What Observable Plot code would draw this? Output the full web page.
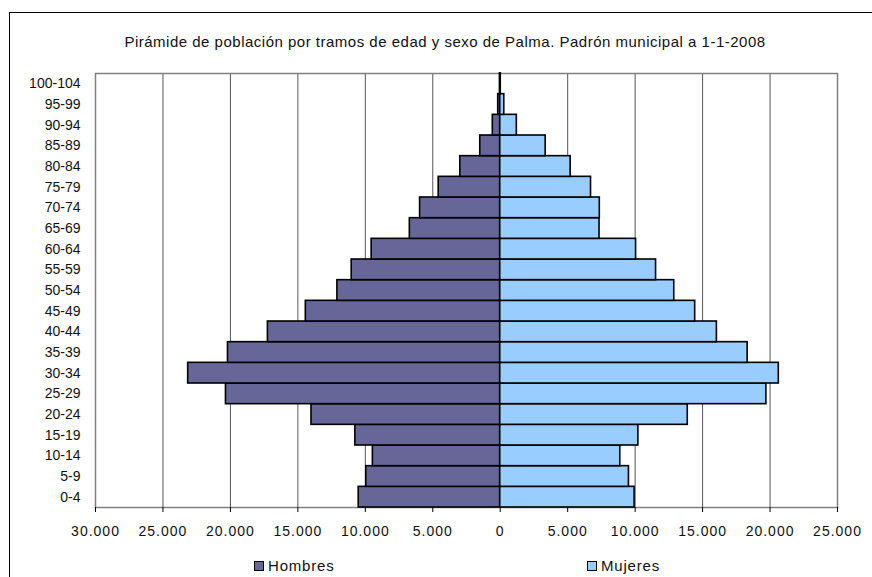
<!DOCTYPE html>
<html>
<head>
<meta charset="utf-8">
<script src="https://cdn.jsdelivr.net/npm/d3@7"></script>
<script src="https://cdn.jsdelivr.net/npm/@observablehq/plot@0.6"></script>
<style>
  html, body { margin: 0; padding: 0; background: #fff; }
  body { width: 872px; height: 577px; position: relative; overflow: hidden; font-family: "Liberation Sans", Arial, sans-serif; }
  #border { position: absolute; left: 9px; top: 12px; width: 900px; height: 600px; border-left: 1px solid #000; border-top: 1px solid #000; box-sizing: border-box; }
  #title { position: absolute; left: 0; width: 890px; top: 33px; text-align: center; font-size: 15px; color: #111; letter-spacing: 0.5px; }
  #chart { position: absolute; left: 0; top: 0; }
  .leg { position: absolute; top: 557px; font-size: 15px; color: #111; display: flex; align-items: center; letter-spacing: 0.8px; }
  .sw { width: 8px; height: 8px; border: 1.5px solid #000; margin-right: 4px; }
</style>
</head>
<body>
<div id="border"></div>
<div id="title">Pirámide de población por tramos de edad y sexo de Palma. Padrón municipal a 1-1-2008</div>
<div id="chart"></div>
<div class="leg" id="legH" style="left:254px"><div class="sw" style="background:#666699"></div>Hombres</div>
<div class="leg" id="legM" style="left:587px"><div class="sw" style="background:#99CCFF"></div>Mujeres</div>
<script>
const ages = ["0-4","5-9","10-14","15-19","20-24","25-29","30-34","35-39","40-44","45-49","50-54","55-59","60-64","65-69","70-74","75-79","80-84","85-89","90-94","95-99","100-104"];
const hombres = [10490, 9930, 9440, 10740, 13990, 20330, 23130, 20180, 17220, 14410, 12070, 11010, 9530, 6700, 5940, 4560, 2960, 1480, 550, 150, 20];
const mujeres = [9960, 9540, 8900, 10240, 13900, 19730, 20650, 18340, 16060, 14450, 12900, 11550, 10070, 7360, 7380, 6730, 5220, 3370, 1230, 300, 40];
const xTicks = [-30000, -25000, -20000, -15000, -10000, -5000, 0, 5000, 10000, 15000, 20000, 25000];
const gridTicks = [-25000, -20000, -15000, -10000, -5000, 5000, 10000, 15000, 20000];

const rows = [];
ages.forEach((a, i) => {
  rows.push({age: a, sexo: "Hombres", v: -hombres[i]});
  rows.push({age: a, sexo: "Mujeres", v: mujeres[i]});
});

const fmt = d => d3.format(",")(Math.abs(d)).replace(/,/g, ".");

const chart = Plot.plot({
  width: 872,
  height: 577,
  marginLeft: 95,
  marginRight: 35,
  marginTop: 73,
  marginBottom: 70,
  style: {fontFamily: "Liberation Sans, Arial, sans-serif", fontSize: "14px", color: "#111", background: "transparent"},
  x: {domain: [-30000, 25000]},
  y: {domain: ages.slice().reverse(), padding: 0, round: false},
  color: {domain: ["Hombres", "Mujeres"], range: ["#666699", "#99CCFF"]},
  marks: [
    Plot.ruleX(gridTicks, {stroke: "#555", strokeWidth: 1}),
    Plot.frame({stroke: "#808080", strokeWidth: 1.5}),
    Plot.barX(rows, {y: "age", x1: 0, x2: "v", fill: "sexo", stroke: "#000", strokeWidth: 1.6, inset: 0}),
    Plot.axisX(xTicks, {tickFormat: fmt, tickSize: 5, tickPadding: 14, line: true, stroke: "#000", fontSize: 14, label: null}),
    Plot.axisY({tickSize: 0, tickPadding: 15, fontSize: 14, label: null})
  ]
});
document.getElementById("chart").appendChild(chart);
chart.querySelectorAll("g[aria-label='x-axis tick label'] text").forEach(t => t.setAttribute("letter-spacing", "1"));
</script>
</body>
</html>
